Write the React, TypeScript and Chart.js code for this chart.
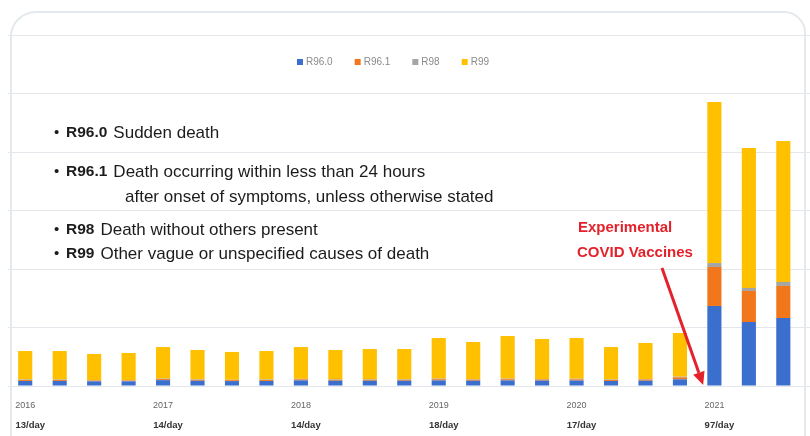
import React, { useEffect, useRef } from "react";
import { Chart, registerables } from "chart.js";
Chart.register(...registerables);

const quarters = [
  "2016 Q1", "2016 Q2", "2016 Q3", "2016 Q4",
  "2017 Q1", "2017 Q2", "2017 Q3", "2017 Q4",
  "2018 Q1", "2018 Q2", "2018 Q3", "2018 Q4",
  "2019 Q1", "2019 Q2", "2019 Q3", "2019 Q4",
  "2020 Q1", "2020 Q2", "2020 Q3", "2020 Q4",
  "2021 Q1", "2021 Q2", "2021 Q3", "2021 Q4",
];
const yearLabels = ["2016", "2017", "2018", "2019", "2020", "2021"];
const perDayLabels = ["13/day", "14/day", "14/day", "18/day", "17/day", "97/day"];
const seriesNames = ["R96.0", "R96.1", "R98", "R99"];
const seriesColors = ["#3a6fcd", "#f2761b", "#a5a5a5", "#ffc000"];

const r960 = [43, 43, 40, 40, 50, 45, 42, 43, 48, 45, 45, 45, 48, 45, 48, 46, 47, 43, 45, 57, 684, 547, 581, 600];
const r961 = [8, 8, 7, 7, 9, 8, 8, 8, 9, 8, 8, 8, 10, 9, 10, 9, 10, 9, 10, 17, 333, 265, 274, 280];
const r98 = [4, 4, 3, 3, 4, 4, 3, 4, 4, 4, 4, 4, 5, 4, 5, 5, 5, 4, 4, 6, 34, 26, 34, 30];
const r99 = [244, 244, 224, 232, 270, 251, 238, 244, 272, 251, 259, 259, 347, 318, 364, 342, 348, 277, 309, 373, 1376, 1197, 1205, 1250];

const yMax = 3000;
const yStep = 500;

const codeLines = [
  { code: "R96.0", text: "Sudden death", y: 133 },
  { code: "R96.1", text: "Death occurring within less than 24 hours", y: 172 },
  { code: "", text: "after onset of symptoms, unless otherwise stated", y: 197 },
  { code: "R98", text: "Death without others present", y: 230 },
  { code: "R99", text: "Other vague or unspecified causes of death", y: 254 },
];
const calloutLines = ["Experimental", "COVID Vaccines"];

const FONT = "'Liberation Sans', Arial, Helvetica, sans-serif";

const overlayPlugin = {
  id: "overlay",
  afterDatasetsDraw(chart: any) {
    const ctx = chart.ctx as CanvasRenderingContext2D;
    const xs = chart.scales.x;
    const ys = chart.scales.y;
    ctx.save();

    // legend
    ctx.font = `10px ${FONT}`;
    ctx.textBaseline = "middle";
    ctx.textAlign = "left";
    const box = 6, gapBox = 3, gapItem = 22;
    const items = chart.data.datasets.map((d: any) => ({ label: d.label, color: d.backgroundColor }));
    const widths = items.map((it: any) => box + gapBox + ctx.measureText(it.label).width);
    const total = widths.reduce((a: number, b: number) => a + b, 0) + gapItem * (items.length - 1);
    let lx = 393 - total / 2;
    const ly = 62;
    items.forEach((it: any, i: number) => {
      ctx.fillStyle = it.color;
      ctx.fillRect(lx, ly - box / 2, box, box);
      ctx.fillStyle = "#8a8a8a";
      ctx.fillText(it.label, lx + box + gapBox, ly + 0.5);
      lx += widths[i] + gapItem;
    });

    // per-day labels under the year labels
    ctx.font = `bold 9.5px ${FONT}`;
    ctx.fillStyle = "#333";
    ctx.textAlign = "center";
    perDayLabels.forEach((t, i) => {
      ctx.fillText(t, xs.getPixelForValue(i * 4) + 5, 425);
    });

    // code descriptions
    ctx.textAlign = "left";
    ctx.fillStyle = "#1c1c1c";
    codeLines.forEach((l) => {
      if (l.code) {
        ctx.font = `15px ${FONT}`;
        ctx.fillText("•", 54, l.y);
        ctx.font = `bold 15.5px ${FONT}`;
        ctx.fillText(l.code, 66, l.y);
        const w = ctx.measureText(l.code).width;
        ctx.font = `17px ${FONT}`;
        ctx.fillText(l.text, 66 + w + 6, l.y);
      } else {
        ctx.font = `17px ${FONT}`;
        ctx.fillText(l.text, 125, l.y);
      }
    });

    // callout
    const red = "#e3222b";
    ctx.fillStyle = red;
    ctx.font = `bold 15px ${FONT}`;
    ctx.fillText(calloutLines[0], 578, 228);
    ctx.fillText(calloutLines[1], 577, 253);

    // arrow
    const tipX = (xs.getPixelForValue(19) + xs.getPixelForValue(20)) / 2 + 6;
    const tipY = ys.getPixelForValue(0) - 1;
    const sx = 662, sy = 268;
    const ang = Math.atan2(tipY - sy, tipX - sx);
    const headLen = 13, headW = 6;
    const bx = tipX - headLen * Math.cos(ang);
    const by = tipY - headLen * Math.sin(ang);
    ctx.strokeStyle = red;
    ctx.lineWidth = 3;
    ctx.beginPath();
    ctx.moveTo(sx, sy);
    ctx.lineTo(bx, by);
    ctx.stroke();
    ctx.beginPath();
    ctx.moveTo(tipX, tipY);
    ctx.lineTo(bx + headW * Math.sin(ang), by - headW * Math.cos(ang));
    ctx.lineTo(bx - headW * Math.sin(ang), by + headW * Math.cos(ang));
    ctx.closePath();
    ctx.fill();

    ctx.restore();
  },
};

export default function App() {
  const ref = useRef<HTMLCanvasElement | null>(null);
  useEffect(() => {
    if (!ref.current) return;
    const series = [r960, r961, r98, r99];
    const chart = new Chart(ref.current, {
      type: "bar",
      data: {
        labels: quarters,
        datasets: seriesNames.map((name, i) => ({
          label: name,
          data: series[i],
          backgroundColor: seriesColors[i],
          borderWidth: 0,
          barPercentage: 0.41,
          categoryPercentage: 1,
        })),
      },
      options: {
        responsive: false,
        animation: false,
        layout: { padding: { left: 8, right: 0, top: 35, bottom: 0 } },
        plugins: { legend: { display: false }, tooltip: { enabled: false } },
        scales: {
          x: {
            stacked: true,
            grid: { display: false, drawTicks: false },
            border: { display: true, color: "#e3e7eb" },
            ticks: {
              autoSkip: false,
              maxRotation: 0,
              padding: 14,
              color: "#666",
              font: { size: 9, family: FONT },
              callback: (_v: any, i: number) => (i % 4 === 0 ? yearLabels[i / 4] : ""),
            },
            afterFit: (s: any) => {
              s.height = 50;
            },
          },
          y: {
            stacked: true,
            min: 0,
            max: yMax,
            ticks: { display: false, stepSize: yStep },
            grid: { color: "#e3e7eb", drawTicks: false },
            border: { display: false },
            afterFit: (s: any) => {
              s.width = 0;
            },
          },
        },
      },
      plugins: [overlayPlugin],
    });
    return () => chart.destroy();
  }, []);

  return (
    <div style={{ position: "fixed", left: 0, top: 0, width: 810, height: 436, overflow: "hidden", background: "#fff" }}>
      <div
        style={{
          position: "absolute",
          left: 10,
          top: 11,
          width: 796,
          height: 600,
          border: "2px solid #e3e9ed",
          borderRadius: "26px 22px 0 0",
          boxSizing: "border-box",
        }}
      />
      <canvas ref={ref} width={835} height={436} style={{ position: "absolute", left: 0, top: 0, width: 835, height: 436 }} />
    </div>
  );
}
